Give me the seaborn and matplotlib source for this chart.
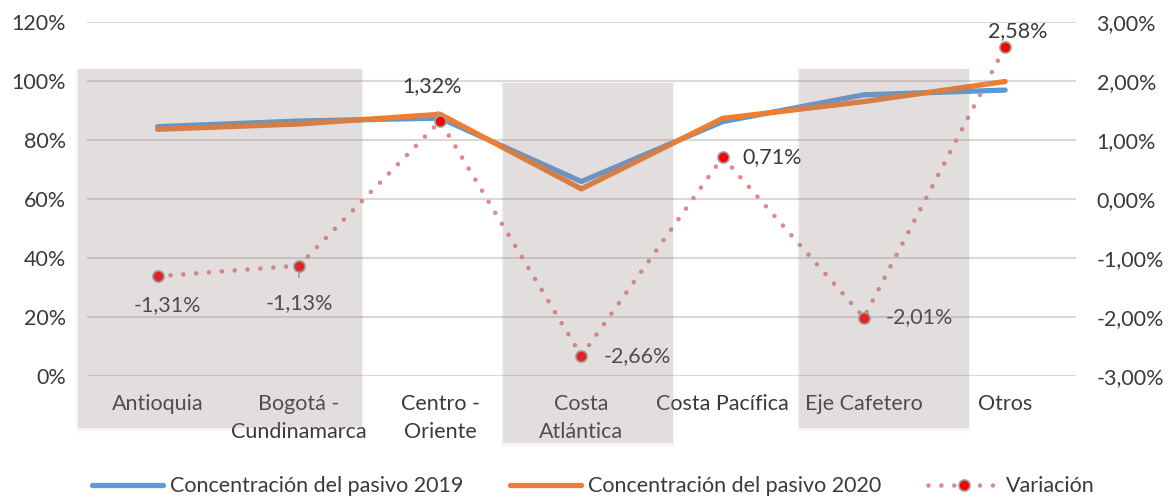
import numpy as np
import pandas as pd
import seaborn as sns
import matplotlib.pyplot as plt
from matplotlib.patches import Rectangle
from matplotlib.ticker import FuncFormatter
import matplotlib.transforms as mtransforms

# data
regions = ["Antioquia", "Bogotá -\nCundinamarca", "Centro -\nOriente", "Costa\nAtlántica",
           "Costa Pacífica", "Eje Cafetero", "Otros"]
pasivo_2019 = [84.5, 86.4, 87.4, 65.9, 86.2, 95.3, 96.9]
pasivo_2020 = [83.6, 85.4, 88.7, 63.4, 87.3, 93.0, 99.8]
variacion = [-1.31, -1.13, 1.32, -2.66, 0.71, -2.01, 2.58]
left_ticks = [0, 20, 40, 60, 80, 100, 120]
right_ticks = [-3, -2, -1, 0, 1, 2, 3]

df = pd.DataFrame({"pos": np.arange(len(regions)), "p2019": pasivo_2019,
                   "p2020": pasivo_2020, "var": variacion})

sns.set_style("white")
plt.rcParams["font.family"] = ["Lato", "DejaVu Sans"]
txt = "#3a3a3a"
fs = 15.5

fig = plt.figure(figsize=(11.68, 4.98), dpi=100)
ax = fig.add_axes([0.0745, 0.245, 0.8465, 0.711])
ax2 = ax.twinx()

sns.lineplot(data=df, x="pos", y="p2019", ax=ax, color="#5B9BD5", lw=3.8,
             solid_capstyle="round", label="Concentración del pasivo 2019")
sns.lineplot(data=df, x="pos", y="p2020", ax=ax, color="#ED7D31", lw=3.8,
             solid_capstyle="round", label="Concentración del pasivo 2020")
sns.lineplot(data=df, x="pos", y="var", ax=ax2, color="#DE8A8A", lw=3.3,
             linestyle=(0, (0.01, 2.8)), dash_capstyle="round",
             marker="o", ms=8, mfc="#FF0000", mec="#A0A0A0", mew=1.2,
             label="Variación")

ax.set_xlim(-0.5, len(regions) - 0.5)
ax.set_ylim(0, 120)
ax2.set_ylim(-3, 3)
ax.set_yticks(left_ticks)
ax2.set_yticks(right_ticks)
ax.yaxis.set_major_formatter(FuncFormatter(lambda v, p: f"{v:.0f}%"))
ax2.yaxis.set_major_formatter(FuncFormatter(lambda v, p: f"{v:.2f}%".replace(".", ",")))
ax.set_xticks(df["pos"], regions)
ax.grid(axis="y", color="#D9D9D9", lw=1.5)
ax.grid(axis="x", visible=False)
ax2.grid(False)
for a in (ax, ax2):
    for s in a.spines.values():
        s.set_visible(False)
    a.set_xlabel("")
    a.set_ylabel("")
    a.tick_params(length=0, labelsize=fs, colors=txt)
ax.tick_params(axis="y", pad=15)
ax2.tick_params(axis="y", pad=15)
ax.tick_params(axis="x", pad=13)
for t in ax.get_xticklabels():
    t.set_linespacing(1.5)

# data labels
offsets = [(7, -21), (0, -27), (-6, 25), (16, 0), (14, 0), (16, 0), (9, 11)]
aligns = ["center", "center", "center", "left", "left", "left", "center"]
leader = [False, True, True, False, False, False, False]
for i, v in enumerate(variacion):
    lab = f"{v:.2f}%".replace(".", ",")
    arrow = dict(arrowstyle="-", color="#A6A6A6", lw=1.2, shrinkA=9, shrinkB=5) if leader[i] else None
    ax2.annotate(lab, (i, v), xytext=offsets[i], textcoords="offset points",
                 ha=aligns[i], va="center", fontsize=fs, color=txt, arrowprops=arrow)

# shaded panels over the chart, with a soft edge
blend = mtransforms.blended_transform_factory(ax.transData, fig.transFigure)
panels = [(-0.564, 1.446, 0.1406, 0.8614), (2.444, 3.647, 0.1104, 0.8333), (4.539, 5.742, 0.1406, 0.8614)]
for x0, x1, y0, y1 in panels:
    for k in (3, 2, 1):
        dx, dy = 0.0025 * k * 7, 0.0025 * k
        fig.add_artist(Rectangle((x0 - dx * 0.3, y0 - dy * 1.4), x1 - x0 + dx * 0.6, y1 - y0 + dy * 1.6,
                                 transform=blend, facecolor="#8C7C7C", edgecolor="none",
                                 alpha=0.025, zorder=5))
    fig.add_artist(Rectangle((x0, y0), x1 - x0, y1 - y0, transform=blend,
                             facecolor="#A08C8C", edgecolor="none", alpha=0.21, zorder=5))

# legend
for a in (ax, ax2):
    if a.get_legend():
        a.get_legend().remove()
h1, l1 = ax.get_legend_handles_labels()
h2, l2 = ax2.get_legend_handles_labels()
fig.legend(h1 + h2, l1 + l2, loc="center", bbox_to_anchor=(0.508, 0.024), ncol=3,
           frameon=False, fontsize=fs, handlelength=3.3, handletextpad=0.3,
           columnspacing=2.2, labelcolor=txt)

fig.savefig("out.png", dpi=100)
